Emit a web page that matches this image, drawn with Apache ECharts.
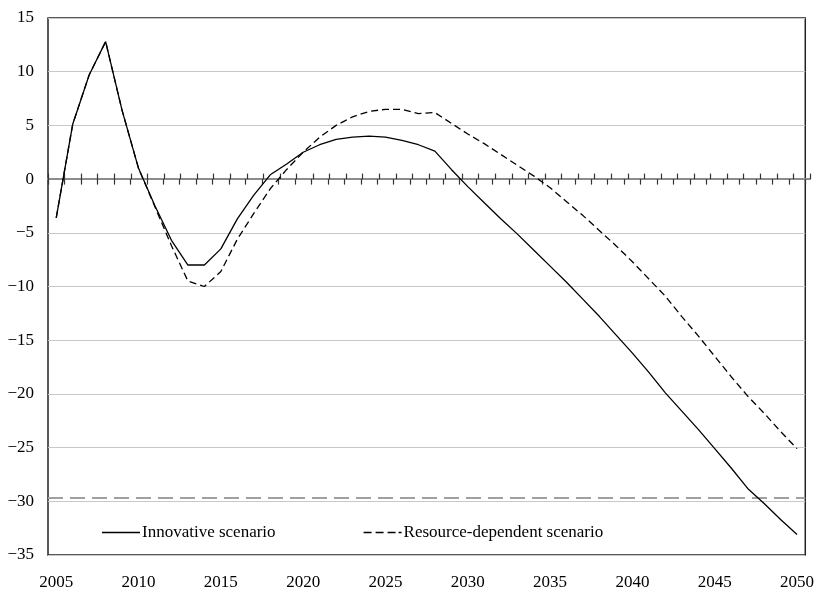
<!DOCTYPE html>
<html>
<head>
<meta charset="utf-8">
<script src="https://cdn.jsdelivr.net/npm/echarts@6/dist/echarts.min.js"></script>
<style>
  html, body { margin: 0; padding: 0; background: #fff; }
  #chart { width: 817px; height: 592px; }
</style>
</head>
<body>
<div id="chart"></div>
<script>
const years = [];
for (let y = 2005; y <= 2050; y++) years.push(String(y));

const innovative = [
  -3.6, 5.1, 9.7, 12.8, 6.4, 1.0, -2.5, -5.7, -8.0, -8.0,
  -6.5, -3.7, -1.5, 0.4, 1.4, 2.5, 3.2, 3.7, 3.9, 4.0,
  3.9, 3.6, 3.2, 2.6, 0.9, -0.7, -2.2, -3.7, -5.1, -6.6,
  -8.1, -9.6, -11.2, -12.8, -14.5, -16.2, -18.0, -19.9, -21.6, -23.3,
  -25.1, -26.9, -28.8, -30.2, -31.7, -33.1
];

const resourceDependent = [
  -3.6, 5.1, 9.7, 12.8, 6.4, 1.0, -2.6, -6.2, -9.5, -10.0,
  -8.6, -5.6, -3.2, -0.9, 0.9, 2.5, 3.9, 5.0, 5.8, 6.3,
  6.5, 6.5, 6.1, 6.2, 5.2, 4.2, 3.3, 2.3, 1.3, 0.3,
  -0.8, -2.1, -3.4, -4.8, -6.2, -7.7, -9.3, -10.9, -12.8, -14.6,
  -16.5, -18.4, -20.2, -21.8, -23.5, -25.1
];

const referenceLevel = -29.7;
const seriesNames = ['Innovative scenario', 'Resource-dependent scenario'];
const yMin = -35, yMax = 15, yStep = 5;

const FONT = '"Liberation Serif", "Times New Roman", serif';

const chart = echarts.init(document.getElementById('chart'), null, { renderer: 'canvas' });

const gridBox = { left: 48, right: 7, top: 18, bottom: 37 };

const zeroAxis = (gridIndex, inside) => ({
  type: 'category',
  gridIndex: gridIndex,
  data: years,
  boundaryGap: true,
  position: 'bottom',
  axisLine: { show: true, onZero: true, lineStyle: { color: '#8c8c8c', width: 2 } },
  axisTick: { show: true, inside: inside, interval: 0, length: 5.5, lineStyle: { color: '#333', width: 1.2 } },
  axisLabel: { show: false },
  splitLine: { show: false }
});

chart.setOption({
  animation: false,
  backgroundColor: '#fff',
  grid: [
    Object.assign({ show: true, borderColor: '#222', borderWidth: 1.5, backgroundColor: 'transparent' }, gridBox),
    Object.assign({ show: false }, gridBox)
  ],
  legend: {
    left: 97, top: 519,
    itemWidth: 38, itemHeight: 14, itemGap: 88,
    itemStyle: { color: '#000', borderWidth: 0 },
    textStyle: { fontFamily: FONT, fontSize: 17, color: '#000', padding: [0, 0, 0, -3] },
    data: [
      { name: seriesNames[0], icon: 'path://M0,0H38V1.4H0Z' },
      { name: seriesNames[1], icon: 'path://M0,0H8V1.4H0Z M12,0H20V1.4H12Z M24,0H32V1.4H24Z M35,0H38V1.4H35Z' }
    ]
  },
  xAxis: [
    zeroAxis(0, false),
    {
      type: 'category',
      gridIndex: 0,
      data: years,
      boundaryGap: true,
      position: 'bottom',
      axisLine: { show: false, onZero: false },
      axisTick: { show: false },
      axisLabel: {
        show: true, interval: 4, margin: 19,
        fontFamily: FONT, fontSize: 17, color: '#000'
      },
      splitLine: { show: false }
    },
    zeroAxis(1, true)
  ],
  yAxis: [
    {
      type: 'value',
      gridIndex: 0,
      min: yMin, max: yMax, interval: yStep,
      axisLine: { show: false },
      axisTick: { show: false },
      axisLabel: {
        margin: 14,
        fontFamily: FONT, fontSize: 17, color: '#000',
        formatter: v => (v < 0 ? '\u2212' + Math.abs(v) : String(v))
      },
      splitLine: { show: true, lineStyle: { color: '#c8c8c8', width: 1.2 } }
    },
    {
      type: 'value',
      gridIndex: 1,
      min: yMin, max: yMax, interval: yStep,
      show: true,
      axisLine: { show: false },
      axisTick: { show: false },
      axisLabel: { show: false },
      splitLine: { show: false }
    }
  ],
  series: [
    {
      name: seriesNames[0],
      type: 'line',
      xAxisIndex: 0,
      yAxisIndex: 0,
      data: innovative,
      showSymbol: false,
      symbol: 'none',
      z: 5,
      lineStyle: { color: '#000', width: 1.3, type: 'solid' },
      itemStyle: { color: '#000' },
      markLine: {
        silent: true,
        symbol: 'none',
        label: { show: false },
        lineStyle: { color: '#a0a0a0', width: 2, type: [15, 7] },
        data: [{ yAxis: referenceLevel }]
      }
    },
    {
      name: seriesNames[1],
      type: 'line',
      xAxisIndex: 0,
      yAxisIndex: 0,
      data: resourceDependent,
      showSymbol: false,
      symbol: 'none',
      z: 5,
      lineStyle: { color: '#000', width: 1.3, type: [7, 4] },
      itemStyle: { color: '#000' }
    }
  ]
});
</script>
</body>
</html>
